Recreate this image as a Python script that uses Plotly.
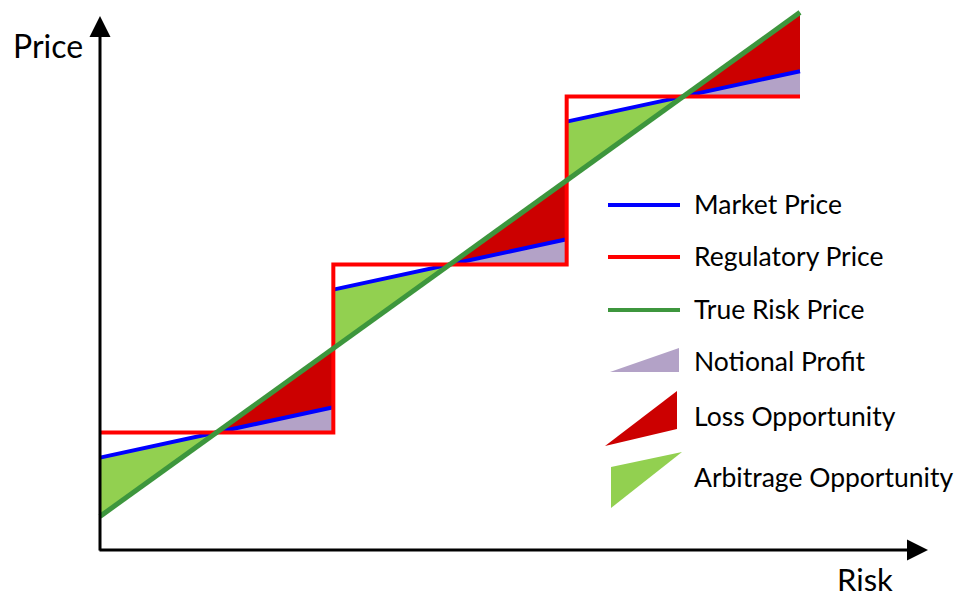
import plotly.graph_objects as go

W, H = 961, 597

# ---- data (conceptual diagram values) ----
seg_start = [0, 1, 2]
seg_end = [1, 2, 3]
reg_level = [0.7, 1.7, 2.7]          # regulatory price steps
mkt_start = [0.55, 1.55, 2.55]       # market price at segment start
mkt_end = [0.85, 1.85, 2.85]         # market price at segment end
true_x = [0, 3]
true_y = [0.2, 3.2]                  # true risk price line
true_start = [0.2, 1.2, 2.2]
true_end = [1.2, 2.2, 3.2]
cross_x = [0.5, 1.5, 2.5]            # where all three meet
cross_y = [0.7, 1.7, 2.7]

legend_labels = ["Market Price", "Regulatory Price", "True Risk Price",
                 "Notional Profit", "Loss Opportunity", "Arbitrage Opportunity"]

BLUE = "#0000FF"
RED = "#FF0000"
GREEN = "#3D963D"
F_LAV = "#B3A2C7"
F_RED = "#CC0000"
F_GRN = "#92D050"

# pixel mapping of the axes
X0PX, XPX = 100, 700 / 3
Y0PX, YPX = 550, 168


def pxx(p):
    return (p - X0PX) / XPX


def pxy(p):
    return (Y0PX - p) / YPX


fig = go.Figure()

# fills
for i in range(3):
    # arbitrage (green): between market (above) and true (below), left of crossing
    fig.add_trace(go.Scatter(
        x=[seg_start[i], cross_x[i], seg_start[i], seg_start[i]],
        y=[mkt_start[i], cross_y[i], true_start[i], mkt_start[i]],
        fill="toself", fillcolor=F_GRN, mode="none", hoverinfo="skip", showlegend=False))
    # loss (red): between true (above) and market (below), right of crossing
    fig.add_trace(go.Scatter(
        x=[cross_x[i], seg_end[i], seg_end[i], cross_x[i]],
        y=[cross_y[i], true_end[i], mkt_end[i], cross_y[i]],
        fill="toself", fillcolor=F_RED, mode="none", hoverinfo="skip", showlegend=False))
    # notional profit (lavender): between market and regulatory, right of crossing
    fig.add_trace(go.Scatter(
        x=[cross_x[i], seg_end[i], seg_end[i], cross_x[i]],
        y=[cross_y[i], mkt_end[i], reg_level[i], cross_y[i]],
        fill="toself", fillcolor=F_LAV, mode="none", hoverinfo="skip", showlegend=False))

# market price segments
for i in range(3):
    fig.add_trace(go.Scatter(x=[seg_start[i], seg_end[i]], y=[mkt_start[i], mkt_end[i]],
                             mode="lines", line=dict(color=BLUE, width=4),
                             hoverinfo="skip", showlegend=False))

# regulatory step
reg_x, reg_y = [], []
for i in range(3):
    reg_x += [seg_start[i], seg_end[i]]
    reg_y += [reg_level[i], reg_level[i]]
fig.add_trace(go.Scatter(x=reg_x, y=reg_y, mode="lines",
                         line=dict(color=RED, width=4, shape="linear"),
                         hoverinfo="skip", showlegend=False))

# true risk price
fig.add_trace(go.Scatter(x=true_x, y=true_y, mode="lines",
                         line=dict(color=GREEN, width=5),
                         hoverinfo="skip", showlegend=False))

shapes = []
annotations = []

# axes with arrows
annotations.append(dict(x=0, y=pxy(16), ax=0, ay=pxy(552), xref="x", yref="y",
                        axref="x", ayref="y", showarrow=True, arrowhead=2,
                        arrowsize=1.4, arrowwidth=3, arrowcolor="black", text=""))
annotations.append(dict(x=pxx(928), y=0, ax=pxx(98), ay=0, xref="x", yref="y",
                        axref="x", ayref="y", showarrow=True, arrowhead=2,
                        arrowsize=1.4, arrowwidth=3, arrowcolor="black", text=""))

FONT = "Lato, 'Liberation Sans', sans-serif"
annotations.append(dict(x=pxx(48), y=pxy(45), xref="x", yref="y", text="Price",
                        showarrow=False, font=dict(size=32, color="black", family=FONT)))
annotations.append(dict(x=pxx(865), y=pxy(579), xref="x", yref="y", text="Risk",
                        showarrow=False, font=dict(size=31, color="black", family=FONT)))

# custom legend
line_rows = [(205, BLUE), (257, RED), (310, GREEN)]
for yy, col in line_rows:
    shapes.append(dict(type="line", xref="x", yref="y", x0=pxx(608), x1=pxx(680),
                       y0=pxy(yy), y1=pxy(yy), line=dict(color=col, width=4)))

tri = [
    (F_LAV, [(610, 372), (679, 348), (679, 372)]),
    (F_RED, [(605, 446), (677, 391), (677, 429)]),
    (F_GRN, [(611, 467), (682, 452), (611, 508)]),
]
for col, pts in tri:
    path = "M " + " L ".join(f"{pxx(a)},{pxy(b)}" for a, b in pts) + " Z"
    shapes.append(dict(type="path", xref="x", yref="y", path=path,
                       fillcolor=col, line=dict(width=0)))

text_y = [204, 256, 309, 361, 416, 477]
for lab, yy in zip(legend_labels, text_y):
    annotations.append(dict(x=pxx(692), y=pxy(yy), xref="x", yref="y", text=lab,
                            xanchor="left", yanchor="middle", showarrow=False,
                            font=dict(size=26.5, color="black", family=FONT)))

fig.update_layout(
    width=W, height=H, margin=dict(l=0, r=0, t=0, b=0),
    paper_bgcolor="white", plot_bgcolor="white",
    xaxis=dict(range=[pxx(0), pxx(W)], visible=False, fixedrange=True),
    yaxis=dict(range=[pxy(H), pxy(0)], visible=False, fixedrange=True),
    shapes=shapes, annotations=annotations, showlegend=False,
)

fig.write_html("out.html")
